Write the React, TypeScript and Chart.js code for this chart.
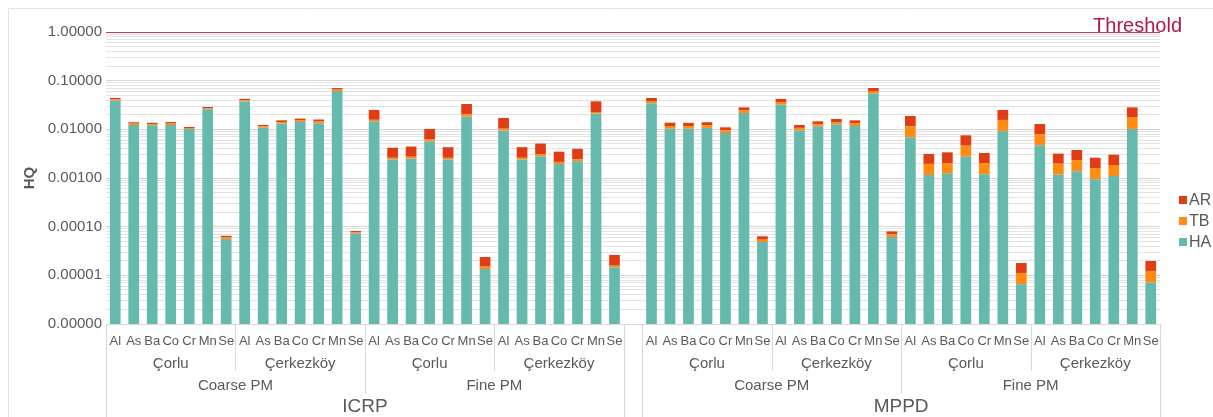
import React, { useEffect, useRef } from 'react';
import { Chart, registerables } from 'chart.js';

Chart.register(...registerables);

const FONT = "'Liberation Sans', Arial, Helvetica, sans-serif";
const TEXT = '#595959';

const elements = ['Al', 'As', 'Ba', 'Co', 'Cr', 'Mn', 'Se'];
const locations = ['Çorlu', 'Çerkezköy'];
const pmSizes = ['Coarse PM', 'Fine PM'];
const models = ['ICRP', 'MPPD'];

const yTickDecades = [0.000001, 0.00001, 0.0001, 0.001, 0.01, 0.1, 1];
const minorSteps = [1, 2, 3, 4, 5, 6, 7, 8, 9];
const thresholdValue = 1;
const thresholdLabel = 'Threshold';

const seriesNames = ['HA', 'TB', 'AR'];
const seriesColors = ['#66b9ad', '#ff8c12', '#e03d14'];

// order in each model: Coarse Çorlu (7), Coarse Çerkezköy (7), Fine Çorlu (7), Fine Çerkezköy (7)
const haICRP = [
  0.0388, 0.0123, 0.0121, 0.0123, 0.0101, 0.0259, 0.000056,
  0.0375, 0.0108, 0.0131, 0.0141, 0.0134, 0.0614, 0.000072,
  0.0145, 0.0024, 0.0025, 0.0056, 0.0024, 0.0182, 0.0000135,
  0.0094, 0.0024, 0.0028, 0.00194, 0.0022, 0.021, 0.0000146,
];
const tbICRP = [
  0.0024, 0.0008, 0.0007, 0.0008, 0.0005, 0.0013, 0.000004,
  0.0021, 0.0007, 0.0010, 0.0011, 0.0011, 0.0042, 0.000004,
  0.0012, 0.0002, 0.00023, 0.0006, 0.0002, 0.0021, 0.0000016,
  0.0009, 0.0002, 0.0003, 0.0002, 0.00022, 0.0017, 0.0000012,
];
const arICRP = [
  0.0029, 0.0009, 0.0008, 0.0010, 0.0006, 0.0016, 0.000005,
  0.0026, 0.0008, 0.0012, 0.0014, 0.0014, 0.0051, 0.0000055,
  0.0093, 0.0016, 0.0017, 0.0040, 0.0017, 0.0129, 0.0000087,
  0.0068, 0.0017, 0.0020, 0.00133, 0.00155, 0.015, 0.0000104,
];
const haMPPD = [
  0.0343, 0.0103, 0.0103, 0.0107, 0.0084, 0.0217, 0.0000485,
  0.0321, 0.0096, 0.0114, 0.0125, 0.0117, 0.054, 0.000061,
  0.0069, 0.00115, 0.00123, 0.00274, 0.00119, 0.0091, 0.0000066,
  0.0047, 0.00117, 0.00137, 0.00094, 0.0011, 0.0102, 0.0000071,
];
const tbMPPD = [
  0.0039, 0.0014, 0.0013, 0.0014, 0.0011, 0.0029, 0.0000055,
  0.0044, 0.0011, 0.0013, 0.0016, 0.0016, 0.0074, 0.0000083,
  0.0046, 0.0008, 0.0008, 0.00187, 0.00084, 0.0065, 0.0000046,
  0.0032, 0.0008, 0.00097, 0.00066, 0.00075, 0.0072, 0.0000052,
];
const arMPPD = [
  0.0059, 0.0020, 0.0020, 0.0019, 0.0015, 0.0037, 0.0000094,
  0.0057, 0.0016, 0.0019, 0.0022, 0.0020, 0.0093, 0.0000106,
  0.0073, 0.00117, 0.00134, 0.00293, 0.00124, 0.0094, 0.0000067,
  0.005, 0.0012, 0.00142, 0.00101, 0.00116, 0.0109, 0.0000074,
];

const perModel = elements.length * locations.length * pmSizes.length; // 28

const labels: string[] = [];
models.forEach((m, mi) => {
  pmSizes.forEach((s) => locations.forEach((l) => elements.forEach((e) => labels.push(`${m} ${s} ${l} ${e}`))));
  if (mi < models.length - 1) labels.push('');
});

const join = (a: number[], b: number[]) => [...a, null, ...b];
const seriesData = [join(haICRP, haMPPD), join(tbICRP, tbMPPD), join(arICRP, arMPPD)];

const CANVAS_W = 1205;
const CANVAS_H = 409;
const PLOT_LEFT = 98;
const PLOT_RIGHT = 1152;
const PLOT_TOP = 24;
const PLOT_BOTTOM = 316;

const framePlugin = {
  id: 'frame',
  beforeDraw(chart: any) {
    const { ctx, width } = chart;
    ctx.save();
    ctx.fillStyle = '#ffffff';
    ctx.fillRect(0, 0, width, chart.height);
    ctx.strokeStyle = '#e3e3e3';
    ctx.lineWidth = 1;
    ctx.beginPath();
    ctx.moveTo(0.5, chart.height);
    ctx.lineTo(0.5, 0.5);
    ctx.lineTo(width, 0.5);
    ctx.stroke();
    ctx.restore();
  },
};

const thresholdPlugin = {
  id: 'threshold',
  afterDatasetsDraw(chart: any) {
    const { ctx, chartArea } = chart;
    const y = Math.round(chart.scales.y.getPixelForValue(thresholdValue)) + 0.5;
    ctx.save();
    ctx.strokeStyle = '#c93a62';
    ctx.lineWidth = 1.2;
    ctx.beginPath();
    ctx.moveTo(chartArea.left, y);
    ctx.lineTo(chartArea.right, y);
    ctx.stroke();
    ctx.fillStyle = '#b3184b';
    ctx.font = `20px ${FONT}`;
    ctx.textAlign = 'right';
    ctx.textBaseline = 'alphabetic';
    ctx.fillText(thresholdLabel, chartArea.right + 22, y - 1);
    ctx.restore();
  },
};

const legendPlugin = {
  id: 'customLegend',
  afterDraw(chart: any) {
    const { ctx, chartArea } = chart;
    const ds = chart.data.datasets.slice().reverse();
    ctx.save();
    ctx.font = `16px ${FONT}`;
    ctx.textBaseline = 'middle';
    ctx.textAlign = 'left';
    ds.forEach((d: any, i: number) => {
      const cy = 192 + i * 21;
      const bx = chartArea.right + 19;
      ctx.fillStyle = d.backgroundColor;
      ctx.fillRect(bx, cy - 4, 8, 8);
      ctx.fillStyle = TEXT;
      ctx.fillText(d.label, bx + 10, cy + 1);
    });
    ctx.restore();
  },
};

const hierPlugin = {
  id: 'hierAxis',
  afterDraw(chart: any) {
    const { ctx, chartArea } = chart;
    const xs = chart.scales.x;
    const bottom = chart.height;
    const px = (i: number) => xs.getPixelForValue(i);
    const sw = px(1) - px(0);
    const edge = (i: number) => px(i) - sw / 2;
    const axisY = chartArea.bottom;
    ctx.save();
    ctx.strokeStyle = '#d9d9d9';
    ctx.lineWidth = 1;
    const vline = (x: number, y1: number, y2: number) => {
      const X = Math.round(x) + 0.5;
      ctx.beginPath();
      ctx.moveTo(X, y1);
      ctx.lineTo(X, y2);
      ctx.stroke();
    };
    ctx.fillStyle = TEXT;
    ctx.textAlign = 'center';
    ctx.textBaseline = 'middle';
    const yEl = axisY + 17;
    const yLoc = axisY + 39.5;
    const yPm = axisY + 62;
    const yModel = axisY + 83;
    const locSepEnd = axisY + 47;
    const pmSepEnd = axisY + 70;
    models.forEach((model, mi) => {
      const mStart = mi * (perModel + 1);
      vline(edge(mStart), axisY, bottom);
      vline(edge(mStart + perModel), axisY, bottom);
      ctx.font = `19px ${FONT}`;
      ctx.fillText(model, (edge(mStart) + edge(mStart + perModel)) / 2, yModel);
      pmSizes.forEach((pm, si) => {
        const sStart = mStart + si * elements.length * locations.length;
        const sEnd = sStart + elements.length * locations.length;
        if (si > 0) vline(edge(sStart), axisY, pmSepEnd);
        ctx.font = `15px ${FONT}`;
        ctx.fillText(pm, (edge(sStart) + edge(sEnd)) / 2, yPm);
        locations.forEach((loc, li) => {
          const lStart = sStart + li * elements.length;
          const lEnd = lStart + elements.length;
          if (li > 0) vline(edge(lStart), axisY, locSepEnd);
          ctx.font = `15px ${FONT}`;
          ctx.fillText(loc, (edge(lStart) + edge(lEnd)) / 2, yLoc);
          ctx.font = `13px ${FONT}`;
          elements.forEach((el, ei) => {
            ctx.fillText(el, px(lStart + ei), yEl);
          });
        });
      });
    });
    ctx.restore();
  },
};

export default function App() {
  const ref = useRef<HTMLCanvasElement | null>(null);
  useEffect(() => {
    document.documentElement.style.overflow = 'hidden';
    document.body.style.margin = '8px 0 0 8px';
    if (!ref.current) return;
    Chart.defaults.font.family = FONT;
    const chart = new Chart(ref.current, {
      type: 'bar',
      data: {
        labels,
        datasets: seriesNames.map((name, i) => ({
          label: name,
          data: seriesData[i],
          backgroundColor: seriesColors[i],
          borderWidth: 0,
          barPercentage: 0.58,
          categoryPercentage: 1,
        })),
      },
      options: {
        responsive: false,
        animation: false,
        layout: { padding: { left: 0, top: PLOT_TOP, right: CANVAS_W - PLOT_RIGHT, bottom: 0 } },
        plugins: {
          legend: { display: false },
          tooltip: { enabled: false },
        },
        scales: {
          x: {
            type: 'category',
            stacked: true,
            grid: { display: false },
            ticks: { display: false },
            border: { display: true, color: '#d9d9d9' },
            afterFit: (s: any) => {
              s.height = CANVAS_H - PLOT_BOTTOM;
            },
          },
          y: {
            type: 'logarithmic',
            stacked: true,
            min: yTickDecades[0],
            max: yTickDecades[yTickDecades.length - 1],
            afterBuildTicks: (s: any) => {
              const t: any[] = [];
              yTickDecades.forEach((d, di) => {
                if (di === yTickDecades.length - 1) {
                  t.push({ value: d, major: true });
                } else {
                  minorSteps.forEach((m) => t.push({ value: parseFloat((m * d).toPrecision(3)), major: m === 1 }));
                }
              });
              s.ticks = t;
            },
            afterFit: (s: any) => {
              s.width = PLOT_LEFT;
            },
            ticks: {
              autoSkip: false,
              padding: 4,
              color: TEXT,
              font: { size: 15, family: FONT },
              callback: (v: any, i: number, ticks: any[]) => (ticks[i] && ticks[i].major ? Number(v).toFixed(5) : ''),
            },
            grid: {
              drawTicks: false,
              color: (c: any) => (c.tick && c.tick.major ? '#d4d4d4' : '#e3e3e3'),
            },
            border: { display: false },
            title: {
              display: true,
              text: 'HQ',
              color: TEXT,
              font: { size: 15, weight: 'bold', family: FONT },
              padding: { top: 13, bottom: 0 },
            },
          },
        },
      } as any,
      plugins: [framePlugin, thresholdPlugin, legendPlugin, hierPlugin],
    });
    return () => chart.destroy();
  }, []);
  return (
    <div style={{ width: CANVAS_W, height: CANVAS_H }}>
      <canvas ref={ref} width={CANVAS_W} height={CANVAS_H} style={{ display: 'block' }} />
    </div>
  );
}
